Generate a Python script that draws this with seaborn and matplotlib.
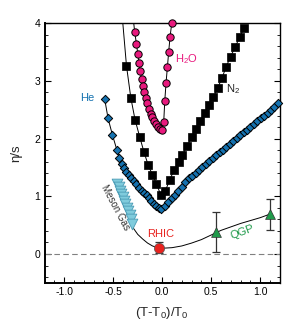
import matplotlib
matplotlib.use("Agg")
import matplotlib.pyplot as plt
import seaborn as sns
import pandas as pd
from matplotlib.ticker import MultipleLocator

# ---------------- data ----------------
h2o_x = [-0.281, -0.263, -0.250, -0.237, -0.227, -0.209, -0.196, -0.182, -0.168,
         -0.151, -0.135, -0.117, -0.100, -0.084, -0.063, -0.043, -0.022, -0.005,
         0.015, 0.026, 0.039, 0.053, 0.066, 0.080, 0.097]
h2o_y = [3.84, 3.64, 3.47, 3.31, 3.17, 3.04, 2.91, 2.81, 2.70,
         2.61, 2.52, 2.43, 2.37, 2.31, 2.25, 2.20, 2.16, 2.15,
         2.29, 2.66, 2.97, 3.25, 3.51, 3.77, 4.00]
h2o_top_x = [-0.294]   # line continues above the frame
h2o_top_y = [4.05]

n2_x = [-0.365, -0.321, -0.278, -0.230, -0.187, -0.145, -0.100, -0.059, -0.015,
        0.033, 0.077, 0.120, 0.168, 0.206, 0.257, 0.300, 0.343, 0.388, 0.434,
        0.478, 0.523, 0.566, 0.610, 0.651, 0.697, 0.745, 0.791, 0.832]
n2_y = [3.26, 2.71, 2.33, 2.03, 1.77, 1.55, 1.37, 1.22, 1.02,
        1.10, 1.29, 1.45, 1.59, 1.72, 1.88, 2.03, 2.16, 2.30, 2.44,
        2.59, 2.72, 2.88, 3.05, 3.24, 3.42, 3.59, 3.76, 3.91]
n2_top_x = [-0.405]
n2_top_y = [4.05]

he_x = [-0.587, -0.553, -0.508, -0.464, -0.437, -0.413, -0.390, -0.365, -0.340,
        -0.314, -0.290, -0.265, -0.237, -0.210, -0.185, -0.160, -0.135, -0.110,
        -0.085, -0.060, -0.035, -0.010,
        0.025, 0.060, 0.095, 0.130, 0.165, 0.200, 0.235, 0.270, 0.305, 0.340,
        0.375, 0.410, 0.445, 0.480, 0.515, 0.550, 0.585, 0.620, 0.655, 0.690,
        0.725, 0.760, 0.795, 0.830, 0.865, 0.900, 0.935, 0.970, 1.005, 1.040,
        1.075, 1.110, 1.145, 1.180]
he_y = [2.68, 2.35, 2.06, 1.81, 1.66, 1.56, 1.49, 1.43, 1.37,
        1.31, 1.26, 1.21, 1.15, 1.10, 1.06, 1.02, 0.97, 0.92,
        0.87, 0.83, 0.80, 0.78,
        0.83, 0.90, 0.97, 1.03, 1.10, 1.17, 1.24, 1.31, 1.36, 1.41,
        1.46, 1.51, 1.56, 1.61, 1.66, 1.71, 1.76, 1.81, 1.86, 1.91,
        1.96, 2.01, 2.06, 2.11, 2.15, 2.20, 2.25, 2.30, 2.35, 2.40,
        2.45, 2.50, 2.55, 2.61]

meson_x = [-0.460, -0.446, -0.432, -0.418, -0.404, -0.390, -0.376, -0.362,
           -0.348, -0.334, -0.320, -0.306]
meson_y = [1.22, 1.16, 1.10, 1.04, 0.98, 0.92, 0.86, 0.80, 0.74, 0.67, 0.60, 0.52]

theory_x = [-0.46, -0.40, -0.35, -0.30, -0.25, -0.20, -0.15, -0.10, -0.05, 0.00,
            0.10, 0.20, 0.30, 0.40, 0.50, 0.60, 0.70, 0.80, 0.90, 1.00, 1.097]
theory_y = [1.25, 0.95, 0.70, 0.46, 0.34, 0.26, 0.19, 0.14, 0.11, 0.10,
            0.11, 0.14, 0.19, 0.25, 0.33, 0.41, 0.47, 0.53, 0.58, 0.63, 0.69]

rhic_x = [-0.033]
rhic_y = [0.11]
rhic_err = [0.10]

qgp_x = [0.553, 1.097]
qgp_y = [0.38, 0.69]
qgp_err = [0.35, 0.27]

x_ticks = [-1.0, -0.5, 0.0, 0.5, 1.0]
y_ticks = [0, 1, 2, 3, 4]

# ---------------- style ----------------
sns.set_style("ticks")
plt.rcParams['font.family'] = ['Liberation Sans', 'DejaVu Sans']
plt.rcParams['mathtext.fontset'] = 'custom'
plt.rcParams['mathtext.rm'] = 'Liberation Sans'

fig = plt.figure(figsize=(2.95, 3.32), dpi=100)
ax = fig.add_axes([0.1515, 0.148, 0.797, 0.782])

pink = "#e8197d"
blue = "#1572b0"
green = "#1f9a4a"
red = "#e8221e"
cyan = "#7fcbdc"

ax.axhline(0, color="#808080", lw=0.8, ls=(0, (5, 3)), zorder=1)

# connecting lines
def line(xs, ys, **kw):
    sns.lineplot(x=xs, y=ys, ax=ax, estimator=None, sort=False, color="black",
                 lw=0.7, **kw)

line(h2o_top_x + h2o_x, h2o_top_y + h2o_y)
line(n2_top_x + n2_x, n2_top_y + n2_y)
line(he_x, he_y)
line(theory_x, theory_y)

# markers
sns.scatterplot(x=meson_x, y=meson_y, ax=ax, marker="v", s=60, color=cyan,
                edgecolor="#4a9bb5", linewidth=0.6, zorder=3)
sns.scatterplot(x=n2_x, y=n2_y, ax=ax, marker="s", s=26, color="black",
                edgecolor="black", linewidth=0.5, zorder=4, clip_on=False)
sns.scatterplot(x=he_x, y=he_y, ax=ax, marker="D", s=18, color=blue,
                edgecolor="black", linewidth=0.7, zorder=5, clip_on=False)
sns.scatterplot(x=h2o_x, y=h2o_y, ax=ax, marker="o", s=28, color=pink,
                edgecolor="black", linewidth=0.7, zorder=6, clip_on=False)

ax.errorbar(rhic_x, rhic_y, yerr=rhic_err, fmt="none", ecolor="#333333",
            elinewidth=0.9, capsize=3, capthick=0.9, zorder=6)
sns.scatterplot(x=rhic_x, y=rhic_y, ax=ax, marker="o", s=55, color=red,
                edgecolor="#555555", linewidth=0.5, zorder=7)
ax.errorbar(qgp_x, qgp_y, yerr=qgp_err, fmt="none", ecolor="#333333",
            elinewidth=0.9, capsize=3, capthick=0.9, zorder=6)
sns.scatterplot(x=qgp_x, y=qgp_y, ax=ax, marker="^", s=50, color=green,
                edgecolor="#333333", linewidth=0.5, zorder=7)

# labels
ax.text(-0.77, 2.70, "He", color=blue, fontsize=8, ha="center", va="center")
ax.text(0.135, 3.38, "H$_2$O", color=pink, fontsize=8, ha="left", va="center")
ax.text(0.65, 2.85, "N$_2$", color="#222222", fontsize=8, ha="left", va="center")
ax.text(-0.02, 0.34, "RHIC", color=red, fontsize=8, ha="center", va="center")
ax.text(0.82, 0.38, "QGP", color=green, fontsize=8, ha="center", va="center",
        rotation=20)
ax.text(-0.48, 0.80, "Meson Gas", color="#333333", fontsize=7, ha="center",
        va="center", rotation=-62)

ax.set_xlim(-1.2, 1.2)
ax.set_ylim(-0.5, 4.0)
ax.set_xticks(x_ticks)
ax.set_xticklabels([f"{t:.1f}" for t in x_ticks])
ax.set_yticks(y_ticks)
ax.xaxis.set_minor_locator(MultipleLocator(0.1))
ax.yaxis.set_minor_locator(MultipleLocator(0.2))
ax.tick_params(which="both", direction="in", top=False, right=True,
               labelsize=7.5, colors="black", pad=3)
ax.tick_params(which="major", length=4, width=0.8)
ax.tick_params(which="minor", length=2, width=0.6)
for side in ["left", "bottom"]:
    ax.spines[side].set_linewidth(1.4)
for side in ["top", "right"]:
    ax.spines[side].set_linewidth(1.0)
    ax.spines[side].set_visible(True)
for s in ax.spines.values():
    s.set_color("black")

ax.set_xlabel("(T-T$_0$)/T$_0$", fontsize=9.5, labelpad=6)
ax.set_ylabel("η/s", fontsize=9.5, labelpad=9)

fig.savefig("out.png", dpi=100)
